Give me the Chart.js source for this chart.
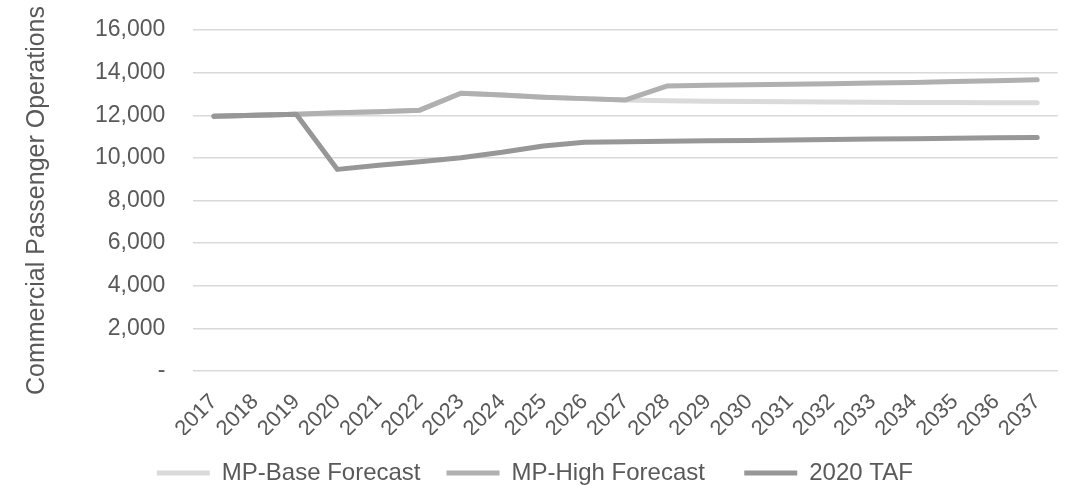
<!DOCTYPE html>
<html>
<head>
<meta charset="utf-8">
<script src="https://cdn.jsdelivr.net/npm/chart.js@4"></script>
<style>
  html, body { margin: 0; padding: 0; background: #fff; }
  #wrap { width: 1066px; height: 485px; }
</style>
</head>
<body>
<div id="wrap"><canvas id="chart" width="1066" height="485"></canvas></div>
<script>
const years = ['2017', '2018', '2019', '2020', '2021', '2022', '2023', '2024', '2025', '2026', '2027',
    '2028', '2029', '2030', '2031', '2032', '2033', '2034', '2035', '2036', '2037'];

const baseForecast = [11950, 12000, 12050, 12120, 12170, 12240, 13030, 12950, 12850, 12780, 12720,
    12680, 12660, 12650, 12630, 12620, 12610, 12600, 12600, 12590, 12590];

const highForecast = [11950, 12000, 12050, 12120, 12170, 12240, 13030, 12950, 12850, 12780, 12720,
    13370, 13410, 13430, 13450, 13480, 13510, 13540, 13580, 13620, 13660];

const taf2020 = [11950, 12000, 12050, 9460, 9650, 9820, 10010, 10260, 10560, 10730, 10760,
    10780, 10800, 10820, 10840, 10860, 10880, 10900, 10920, 10940, 10960];

const seriesNames = ['MP-Base Forecast', 'MP-High Forecast', '2020 TAF'];
const seriesColors = ['#dadada', '#b0b0b0', '#979797'];

const textColor = '#595959';
const fontFamily = 'Arial, "Liberation Sans", sans-serif';

// later series are painted on top, like the original
const makeLine = (label, data, color, order) => ({
    label: label,
    data: data,
    order: order,
    borderColor: color,
    backgroundColor: color,
    borderWidth: 5,
    borderCapStyle: 'round',
    borderJoinStyle: 'round',
    pointRadius: 0,
    pointHoverRadius: 0,
    tension: 0
});

const ctx = document.getElementById('chart').getContext('2d');

new Chart(ctx, {
    type: 'line',
    data: {
        labels: years,
        datasets: [
            makeLine(seriesNames[0], baseForecast, seriesColors[0], 3),
            makeLine(seriesNames[1], highForecast, seriesColors[1], 2),
            makeLine(seriesNames[2], taf2020, seriesColors[2], 1)
        ]
    },
    options: {
        responsive: false,
        animation: false,
        layout: {
            padding: { top: 30, right: 5, left: 22, bottom: -10 }
        },
        scales: {
            x: {
                offset: true,
                grid: { display: false },
                border: { display: false },
                afterFit: (scale) => { scale.height = 64; },
                ticks: {
                    color: textColor,
                    font: { family: fontFamily, size: 22 },
                    minRotation: 45,
                    maxRotation: 45,
                    padding: 10,
                    autoSkip: false
                }
            },
            y: {
                min: 0,
                max: 16000,
                grid: {
                    color: '#d9d9d9',
                    lineWidth: 1.5,
                    drawTicks: true,
                    tickLength: 24,
                    tickColor: 'rgba(0,0,0,0)'
                },
                border: { display: false },
                ticks: {
                    stepSize: 2000,
                    color: textColor,
                    padding: 4,
                    font: { family: fontFamily, size: 23 },
                    callback: (value) => value === 0 ? '-' : value.toLocaleString('en-US')
                },
                title: {
                    display: true,
                    text: 'Commercial Passenger Operations',
                    color: textColor,
                    font: { family: fontFamily, size: 25 },
                    padding: { top: 0, bottom: 39 }
                }
            }
        },
        plugins: {
            legend: {
                position: 'bottom',
                labels: {
                    color: textColor,
                    font: { family: fontFamily, size: 24 },
                    usePointStyle: true,
                    pointStyle: 'line',
                    pointStyleWidth: 53,
                    boxHeight: 10,
                    padding: 26,
                    sort: (a, b) => a.datasetIndex - b.datasetIndex,
                    generateLabels: (chart) => {
                        const items = Chart.defaults.plugins.legend.labels.generateLabels(chart);
                        // a bit more room between entries
                        items.forEach((item, i) => {
                            if (i < items.length - 1) item.text = item.text + '  ';
                        });
                        return items;
                    }
                }
            },
            tooltip: { enabled: false }
        }
    }
});
</script>
</body>
</html>
